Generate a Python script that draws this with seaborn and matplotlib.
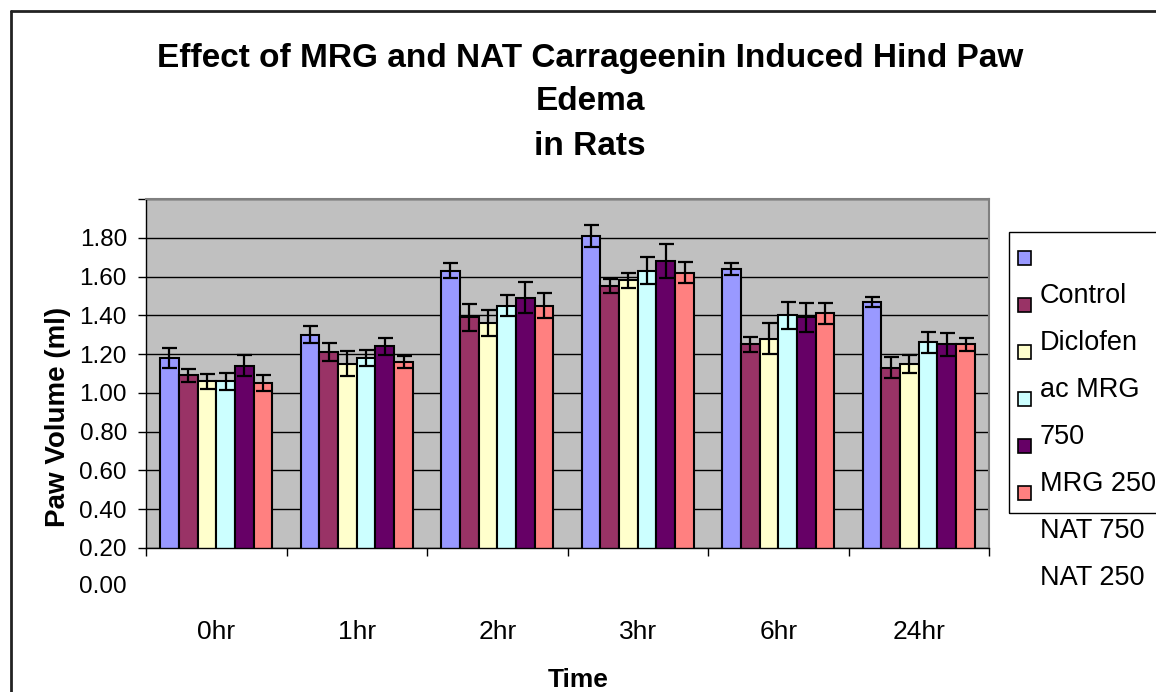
import numpy as np
import pandas as pd
import matplotlib
matplotlib.use('Agg')
import matplotlib.pyplot as plt
import seaborn as sns
from matplotlib.patches import Rectangle
from matplotlib.lines import Line2D

# dados
times = ['0hr', '1hr', '2hr', '3hr', '6hr', '24hr']
groups = ['Control', 'Diclofenac', 'MRG 750', 'MRG 250', 'NAT 750', 'NAT 250']
control = [1.18, 1.30, 1.63, 1.81, 1.64, 1.47]
diclofenac = [1.09, 1.21, 1.39, 1.55, 1.25, 1.13]
mrg_750 = [1.06, 1.15, 1.36, 1.58, 1.28, 1.15]
mrg_250 = [1.06, 1.18, 1.45, 1.63, 1.40, 1.26]
nat_750 = [1.14, 1.24, 1.49, 1.68, 1.39, 1.25]
nat_250 = [1.05, 1.16, 1.45, 1.62, 1.41, 1.25]
err_control = [0.05, 0.045, 0.04, 0.055, 0.03, 0.025]
err_diclofenac = [0.035, 0.045, 0.07, 0.035, 0.04, 0.055]
err_mrg_750 = [0.04, 0.065, 0.065, 0.04, 0.08, 0.045]
err_mrg_250 = [0.045, 0.04, 0.055, 0.07, 0.07, 0.055]
err_nat_750 = [0.055, 0.045, 0.08, 0.09, 0.075, 0.06]
err_nat_250 = [0.04, 0.03, 0.065, 0.055, 0.055, 0.035]
y_ticks = [0.2, 0.4, 0.6, 0.8, 1.0, 1.2, 1.4, 1.6, 1.8, 2.0]
legend_lines = ['', 'Control', 'Diclofen', 'ac MRG', '750', 'MRG 250', 'NAT 750', 'NAT 250']
colors = ['#9999FF', '#993366', '#FFFFCC', '#CCFFFF', '#660066', '#FF8080']

values = [control, diclofenac, mrg_750, mrg_250, nat_750, nat_250]
errs = [err_control, err_diclofenac, err_mrg_750, err_mrg_250, err_nat_750, err_nat_250]

df = pd.DataFrame({
    'Time': times * len(groups),
    'Group': np.repeat(groups, len(times)),
    'Volume': np.concatenate(values),
})

sns.set_style('white')
narrow = ['Liberation Sans Narrow', 'Liberation Sans', 'DejaVu Sans']
regular = ['Liberation Sans', 'DejaVu Sans']
plt.rcParams['font.family'] = regular
plt.rcParams['text.color'] = 'black'
plt.rcParams['axes.labelcolor'] = 'black'
plt.rcParams['xtick.color'] = 'black'
plt.rcParams['ytick.color'] = 'black'

W, H = 1156, 692
def fx(x):
    return x / W
def fy(y):
    return 1 - y / H

fig = plt.figure(figsize=(W / 100, H / 100), dpi=100)
ax = fig.add_axes([fx(146), fy(548), fx(989) - fx(146), fy(199) - fy(548)])

sns.barplot(data=df, x='Time', y='Volume', hue='Group', order=times, hue_order=groups,
            palette=colors, saturation=1, edgecolor='black', linewidth=1.5,
            errorbar=None, width=0.8, legend=False, ax=ax)

# barras de erro
for cont, e in zip(ax.containers, errs):
    xs = [b.get_x() + b.get_width() / 2 for b in cont]
    hs = [b.get_height() for b in cont]
    ax.errorbar(xs, hs, yerr=e, fmt='none', ecolor='black', elinewidth=1.6,
                capsize=5.4, capthick=1.6, zorder=5)

ax.set_facecolor('#C0C0C0')
ax.set_xlim(-0.5, 5.5)
ax.set_ylim(0.2, 2.0)
ax.set_yticks(y_ticks)
ax.set_yticklabels([f'{v:.2f}' for v in y_ticks[:-1]] + [''])
ax.yaxis.grid(True, color='black', lw=1)
ax.set_axisbelow(True)
ax.tick_params(axis='y', direction='out', length=5.8, width=1, color='black',
               pad=7.9, labelsize=17.5, left=True)
ax.annotate('0.00', xy=(0, 0.0), xycoords=('axes fraction', 'data'),
            xytext=(-13.7, 0), textcoords='offset points', ha='right', va='center',
            fontsize=17.5, annotation_clip=False)

ax.set_xticks(range(len(times)))
ax.set_xticks(np.arange(-0.5, len(times), 1), minor=True)
ax.tick_params(axis='x', which='major', length=0, pad=52, labelsize=19)
ax.tick_params(axis='x', which='minor', direction='out', length=5.8, width=1,
               color='black', bottom=True)
for lbl in ax.get_xticklabels():
    lbl.set_family(narrow)

ax.set_xlabel('Time', fontsize=19, fontweight='bold', family=narrow)
ax.xaxis.set_label_coords((578 - 146) / 843, -(668 - 548) / 349)
ax.set_ylabel('Paw Volume (ml)', fontsize=20, fontweight='bold')
ax.yaxis.set_label_coords((71 - 146) / 843, (548 - 417) / 349)

for s in ['top', 'right']:
    ax.spines[s].set_color('#808080')
    ax.spines[s].set_linewidth(1.5)
for s in ['left', 'bottom']:
    ax.spines[s].set_color('black')
    ax.spines[s].set_linewidth(1)

# titulo
for t, yb in zip(['Effect of MRG and NAT Carrageenin Induced Hind Paw', 'Edema', 'in Rats'],
                 [66.7, 110, 155]):
    fig.text(fx(590), fy(yb), t, fontsize=24, fontweight='bold', family=narrow,
             ha='center', va='baseline')

# legenda desenhada a mao (como no original)
fig.add_artist(Rectangle((fx(1008.7), fy(513)), fx(1200) - fx(1008.7), fy(231.7) - fy(513),
                         transform=fig.transFigure, fill=False, edgecolor='black', lw=1))
for i, c in enumerate(colors):
    fig.add_artist(Rectangle((fx(1018), fy(258 + 47 * i + 7)), fx(13), 14 / H,
                             transform=fig.transFigure, facecolor=c, edgecolor='black', lw=1.2))
for k, t in enumerate(legend_lines):
    fig.text(fx(1040), fy(303 + 47 * (k - 1)), t, fontsize=19.5, family=regular,
             ha='left', va='baseline')

# moldura da figura
fig.add_artist(Line2D([fx(11), fx(11)], [fy(11), 0], color='#222222', lw=2,
                      transform=fig.transFigure))
fig.add_artist(Line2D([fx(11), 1], [fy(11), fy(11)], color='#222222', lw=2,
                      transform=fig.transFigure))

fig.savefig('out.png', dpi=100)
